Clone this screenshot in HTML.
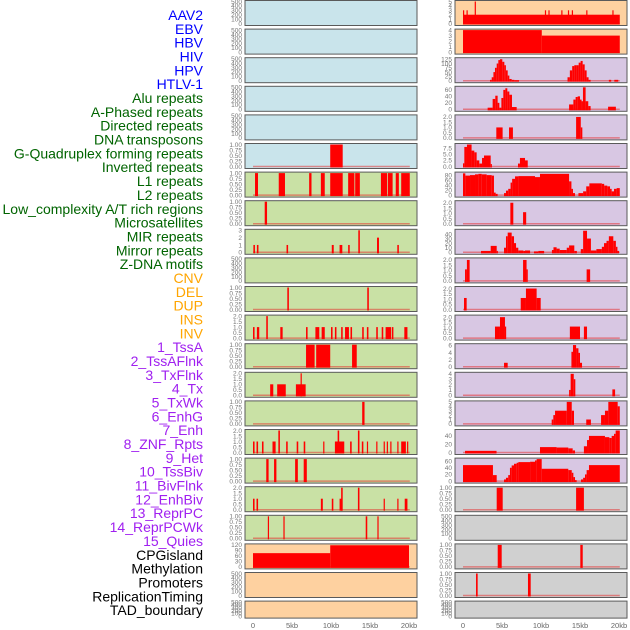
<!DOCTYPE html>
<html><head><meta charset="utf-8"><style>
html,body{margin:0;padding:0;background:#fff;}
svg{display:block;font-family:"Liberation Sans",sans-serif;}
</style></head><body>
<svg id="chart" width="630" height="630" viewBox="0 0 630 630"></svg>
<script>
// ---- labels ----
const trackLabels = ["AAV2","EBV","HBV","HIV","HPV","HTLV-1","Alu repeats","A-Phased repeats","Directed repeats","DNA transposons","G-Quadruplex forming repeats","Inverted repeats","L1 repeats","L2 repeats","Low_complexity A/T rich regions","Microsatellites","MIR repeats","Mirror repeats","Z-DNA motifs","CNV","DEL","DUP","INS","INV","1_TssA","2_TssAFlnk","3_TxFlnk","4_Tx","5_TxWk","6_EnhG","7_Enh","8_ZNF_Rpts","9_Het","10_TssBiv","11_BivFlnk","12_EnhBiv","13_ReprPC","14_ReprPCWk","15_Quies","CPGisland","Methylation","Promoters","ReplicationTiming","TAD_boundary"];
const labelGroups = ["virus","virus","virus","virus","virus","virus","rep","rep","rep","rep","rep","rep","rep","rep","rep","rep","rep","rep","rep","sv","sv","sv","sv","sv","cs","cs","cs","cs","cs","cs","cs","cs","cs","cs","cs","cs","cs","cs","cs","oth","oth","oth","oth","oth"];
const xTicks = [0,5,10,15,20];
const xTickLabels = ["0","5kb","10kb","15kb","20kb"];
// ---- tick label sets ----
const tEmpty = ["0","100","200","300","400","500"];
const t1 = ["0.00","0.25","0.50","0.75","1.00"];
const t2 = ["0.0","0.5","1.0","1.5","2.0"];
// ---- segment data [startKb, endKb, value] ----
const sEmpty = [];
const sHTLV = [[9.9,11.5,1]];
const sAlu = [[0.26,0.64,1],[3.3,4.1,1],[7.2,7.5,1],[8.7,9.2,1],[9.9,11.5,1],[12.2,13.0,1],[13.1,13.7,1],[16.4,17.2,1],[17.3,17.9,1],[18.3,18.7,1],[19.0,20.1,1]];
const sAPhased = [[1.5,1.8,1]];
const sDirected = [[0.05,0.25,1],[0.5,0.7,1],[4.3,4.5,1],[10.1,10.35,1],[11.1,11.45,1],[12.2,12.4,1],[13.5,13.7,3],[15.9,16.15,2],[18.5,18.7,1]];
const sGQuad = [[4.4,4.6,1],[14.65,14.85,1]];
const sInverted = [[0,0.2,1],[0.5,0.8,1],[1.7,1.9,2],[3.5,3.8,1],[6.8,7.0,1],[8.0,8.5,1],[8.8,9.2,1],[10.0,10.2,1],[10.5,10.7,1],[11.3,11.5,1],[11.8,12.3,1],[12.5,12.7,1],[14.0,14.2,1],[14.6,14.8,1],[15.8,16.0,1],[16.5,16.7,1],[17.0,17.7,1],[17.8,18.0,1],[19.4,19.8,1]];
const sL1 = [[6.8,7.9,1],[8.1,9.9,1],[12.7,13.3,1]];
const sL2 = [[2.2,2.6,1],[3.1,4.2,1],[5.5,6.75,1],[6.1,6.25,2]];
const sLowComp = [[14.0,14.3,1]];
const sMicrosat = [[0,0.2,1],[0.45,0.65,1],[1.15,1.35,1],[2.5,2.9,1],[3.25,3.45,2],[4.25,4.45,1],[5.6,5.8,1],[6.5,6.7,1],[9.0,9.15,1],[10.5,11.7,1],[10.85,11.05,2],[12.45,12.65,1],[13.45,13.65,2],[13.95,14.15,1],[14.6,14.75,1],[15.8,15.95,1],[16.75,16.9,1],[17.15,17.3,1],[17.6,17.75,1],[18.5,18.65,1],[19.0,19.6,1],[19.75,19.9,1]];
const sMIR = [[1.7,2.0,1],[2.7,3.0,1],[5.4,5.75,1],[6.5,6.9,1]];
const sMirror = [[0,0.2,1],[0.45,0.65,1],[8.7,8.95,1],[10.1,10.3,1],[11.1,11.45,1],[11.3,11.5,2],[13.45,13.65,2],[16.75,16.9,1],[18.5,18.65,1],[19.45,19.8,1]];
const sZDNA = [[1.9,2.05,1],[3.9,4.05,1],[14.45,14.65,1],[15.95,16.1,1]];
const sCNV = [[0,9.9,75],[9.9,20.0,118]];
const sINS = [[0,20.1,2],[0,0.15,3],[0.45,0.6,3],[1.5,1.65,5],[10.5,10.65,3],[10.95,11.1,3],[12.6,12.75,3],[13.45,13.6,3],[13.95,14.1,3],[15.8,15.95,3],[19.15,19.3,3]];
const sINV = [[0,10.1,4],[10.1,20.1,3]];
const sTssA = [[3.46,3.68,5],[3.68,3.9,20],[3.9,4.1,50],[4.1,4.32,75],[4.32,4.53,100],[4.53,4.74,120],[4.74,5.04,125],[5.04,5.3,110],[5.3,5.5,90],[5.5,5.73,60],[5.73,5.94,30],[5.94,6.24,10],[6.24,6.58,5],[6.58,7.18,3],[13.4,13.7,20],[13.7,14.0,60],[14.0,14.27,85],[14.27,14.57,90],[14.57,14.83,90],[14.83,15.08,105],[15.08,15.34,115],[15.34,15.6,95],[15.6,15.85,60],[15.85,16.1,20],[16.1,16.36,5],[18.7,19.0,5],[19.4,19.9,5]];
const sTssAFlnk = [[3.16,3.8,5],[3.8,4.14,32],[4.14,4.44,42],[4.44,4.66,20],[4.66,4.92,5],[4.92,5.17,35],[5.17,5.43,60],[5.43,5.68,65],[5.68,5.94,55],[5.94,6.28,45],[6.28,6.88,7],[13.6,14.15,15],[14.15,14.44,30],[14.44,14.7,38],[14.7,15.0,40],[15.0,15.2,30],[15.2,15.38,25],[15.38,15.72,68],[15.72,16.06,25],[16.06,16.36,10],[18.6,19.6,8]];
const sTxFlnk = [[4.27,5.08,1],[5.9,6.4,1],[14.5,15.1,2],[15.1,15.3,1]];
const sTx = [[0,0.17,1.3],[0.17,0.51,8],[0.51,1.1,9],[1.1,1.45,6.5],[1.45,1.75,5.8],[1.75,2.09,2.5],[2.09,2.44,1.2],[2.44,2.69,3.5],[2.69,3.55,4.5],[3.55,3.67,1],[7.05,7.3,1.2],[7.3,7.95,3.5],[7.95,8.3,2.5]];
const sTxWk = [[0,0.3,87],[0.3,0.9,78],[0.9,1.54,80],[1.54,1.97,83],[1.97,2.4,85],[2.4,3.03,83],[3.03,3.68,80],[3.68,3.97,78],[3.97,4.19,10],[4.19,4.44,5],[5.26,5.51,8],[5.51,5.8,18],[5.8,6.1,25],[6.1,6.3,50],[6.3,6.67,65],[6.67,7.1,75],[7.1,9.23,76],[9.23,9.87,72],[9.87,13.6,85],[13.6,13.9,55],[13.9,14.1,25],[14.1,14.36,8],[14.8,15.4,8],[15.4,15.8,15],[15.8,16.2,35],[16.2,17.8,47],[17.8,18.1,45],[18.1,18.5,38],[18.5,18.85,35],[18.85,19.06,25],[19.06,19.36,15],[19.36,19.7,25],[19.7,20.1,28]];
const sEnhG = [[6.07,6.45,2],[7.7,8.1,1.1]];
const sEnh = [[2.31,3.55,3],[3.55,4.32,14],[4.32,4.44,3],[5.26,5.51,10],[5.51,5.73,35],[5.73,6.24,43],[6.24,6.54,35],[6.54,6.8,20],[6.8,7.09,10],[7.09,7.74,4],[7.74,7.95,3],[7.95,8.6,4],[9.1,9.66,2],[9.66,10.4,3],[11.4,11.6,5],[11.6,12.0,11],[12.0,12.4,8],[12.4,13.3,5],[13.3,13.6,10],[13.6,14.27,15],[14.27,14.6,3],[15.1,15.4,7],[15.4,15.9,47],[15.9,16.4,30],[16.4,17.1,4],[17.1,17.8,7],[17.8,18.08,12],[18.08,18.4,20],[18.4,18.7,25],[18.7,19.27,35],[19.27,19.6,25],[19.6,19.8,12],[19.8,20.0,3]];
const sZNF = [[0.26,0.5,1.1],[0.5,0.85,2],[7.7,8.15,2],[8.15,8.3,1.1],[15.85,16.3,1.1]];
const sHet = [[0.13,0.47,1.1],[7.4,8.07,1.1],[8.07,9.44,2],[9.44,9.96,1.1]];
const sTssBiv = [[4.1,4.74,1.1],[4.74,5.38,2],[5.38,5.5,1.1],[13.7,15.0,1.1],[15.5,15.9,1.1]];
const sBivFlnk = [[5.26,5.73,1.1],[13.9,14.1,4.2],[14.1,14.5,6.1],[14.5,14.8,5.2],[14.8,15.0,3.9],[15.0,15.26,1.1]];
const sEnhBiv = [[13.6,13.8,1],[13.8,14.2,4],[14.2,14.4,3],[19.15,19.5,1.1]];
const sReprPC = [[11.37,11.58,1],[11.58,11.8,2],[11.8,13.3,3],[13.3,13.94,5],[13.94,14.23,3],[15.8,16.4,1],[17.7,18.2,2],[18.2,18.63,3],[18.63,19.83,5],[19.83,20.1,4]];
const sReprPCWk = [[0.26,4.3,4],[9.87,12.0,13],[12.0,13.5,12],[13.5,14.06,10],[14.06,14.36,5],[15.5,15.9,15],[15.9,16.15,30],[16.15,18.2,40],[18.2,18.76,37],[18.76,19.06,35],[19.06,19.36,40],[19.36,19.57,45],[19.57,20.1,53]];
const sQuies = [[0,3.84,48],[3.84,4.32,18],[5.26,5.51,5],[5.51,5.8,10],[5.8,6.02,18],[6.02,6.24,40],[6.24,6.54,47],[6.54,6.88,52],[6.88,7.1,55],[7.1,8.6,57],[8.6,9.23,58],[9.23,9.44,62],[9.44,10.09,66],[10.09,13.5,37],[13.5,13.94,33],[13.94,14.15,25],[14.15,14.36,12],[14.36,14.57,3],[15.13,15.4,5],[15.4,15.64,10],[15.64,15.85,20],[15.85,16.15,33],[16.15,20.1,48]];
const sCPG = [[4.32,5.09,1],[14.5,15.5,1]];
const sPromoters = [[4.45,4.96,1],[15.04,15.35,1]];
const sRepTiming = [[1.67,1.88,1],[8.33,8.68,1]];

// panel list: [segments, yMax, tickLabels, tickValues]
const leftPanels = [
 [sEmpty,500,tEmpty],[sEmpty,500,tEmpty],[sEmpty,500,tEmpty],[sEmpty,500,tEmpty],[sEmpty,500,tEmpty],[sHTLV,1,t1],
 [sAlu,1,t1],[sAPhased,1,t1],[sDirected,3,["0","1","2","3"]],[sEmpty,500,tEmpty],[sGQuad,1,t1],[sInverted,2,t2],
 [sL1,1,t1],[sL2,2,t2],[sLowComp,1,t1],[sMicrosat,2,t2],[sMIR,1,t1],[sMirror,2,t2],[sZDNA,1,t1],
 [sCNV,120,["0","30","60","90","120"]],[sEmpty,500,tEmpty],[sEmpty,500,tEmpty]];
const rightPanels = [
 [sINS,5,["0","1","2","3","4","5"]],[sINV,4,["0","1","2","3","4"]],
 [sTssA,128,["0","25","50","75","100","125"]],[sTssAFlnk,68,["0","20","40","60"]],[sTxFlnk,2.1,t2],
 [sTx,9,["0.0","2.5","5.0","7.5"]],[sTxWk,88,["0","20","40","60","80"]],[sEnhG,2.1,t2],
 [sEnh,48,["0","10","20","30","40"]],[sZNF,2.1,t2],[sHet,2.1,t2],[sTssBiv,2.1,t2],
 [sBivFlnk,6.2,["0","2","4","6"]],[sEnhBiv,4.1,["0","1","2","3","4"]],[sReprPC,5,["0","1","2","3","4","5"]],
 [sReprPCWk,53,["0","20","40"]],[sQuies,66,["0","20","40","60"]],
 [sCPG,1,t1],[sEmpty,500,tEmpty],[sPromoters,1,t1],[sRepTiming,1,t1],[sEmpty,500,tEmpty]];
const leftColors = ["b","b","b","b","b","b","g","g","g","g","g","g","g","g","g","g","g","g","g","p","p","p"];
const rightColors = ["p","p","l","l","l","l","l","l","l","l","l","l","l","l","l","l","l","y","y","y","y","y"];

const NS="http://www.w3.org/2000/svg";
const svg=document.getElementById('chart');
const fill={b:"#c9e4eb",g:"#c9e1a5",p:"#fed1a0",l:"#d8c7e3",y:"#d0d0d0"};
const labColor={virus:"#0000ff",rep:"#006400",sv:"#ffa500",cs:"#a020f0",oth:"#000000"};
function mk(tag,attrs){const e=document.createElementNS(NS,tag);for(const k in attrs)e.setAttribute(k,attrs[k]);svg.appendChild(e);return e;}

trackLabels.forEach((t,i)=>{
  const e=mk('text',{x:203,y:15+i*13.84+5,'text-anchor':'end','font-size':14,fill:labColor[labelGroups[i]]});
  
  
  e.textContent=t;
});

function drawCol(panels,colors,left,x0,side){
  const w=172, kbPx=7.8;
  const xs=kb=>x0+kb*kbPx;
  panels.forEach((p,r)=>{
    const top=r*28.6+0.5, h=(r===21?17:25);
    const bot=top+h;
    const rect=mk('rect',{x:left,y:top,width:w,height:h,fill:fill[colors[r]],stroke:'#5a5a5a','stroke-width':1});
    
    
    const [segs,ymax,ticks]=p;
    const y0=bot-2, ph=h-3;
    const ys=v=>y0-Math.min(v,ymax)/ymax*ph;
    const n=ticks.length;
    ticks.forEach((tl,k)=>{
      const v=parseFloat(tl);
      const t=mk('text',{x:left-3,y:ys(v)+2.3,'text-anchor':'end','font-size':6.5,fill:'#777'});
      
      
      t.textContent=tl;
    });
    if(ymax!==500 || segs.length){
      const bl=mk('line',{x1:xs(0),x2:xs(20.1),y1:y0,y2:y0,stroke:'rgba(230,40,40,0.5)','stroke-width':1.5});
      
      
    }
    segs.forEach(s=>{
      const x1=xs(s[0]), x2=xs(s[1]);
      const yt=ys(s[2]);
      const b=mk('rect',{x:x1,y:yt,width:Math.max(x2-x1,1.2),height:y0-yt+1,fill:'#ff0000'});
      
      
    });
  });
  xTicks.forEach((v,i)=>{
    const t=mk('text',{x:xs(v),y:628,'text-anchor':'middle','font-size':7.5,fill:'#666'});
    
    
    t.textContent=xTickLabels[i];
  });
}
drawCol(leftPanels,leftColors,245,253,'left');
drawCol(rightPanels,rightColors,455,463,'right');
</script>
</body></html>
